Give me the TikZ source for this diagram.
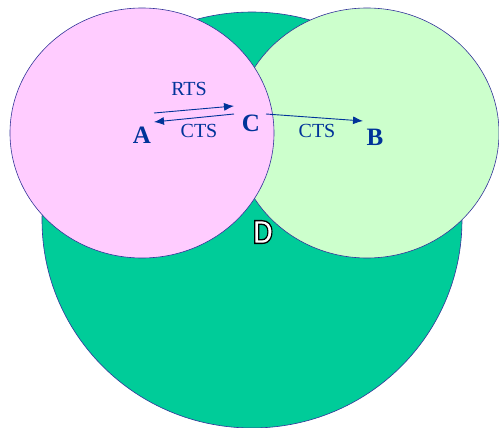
\documentclass[tikz,border=0pt]{standalone}
\usepackage{fontspec}
\usetikzlibrary{arrows.meta}
\setmainfont{Liberation Serif}
\newfontface\dface[FakeBold=4]{Liberation Sans Bold}
\definecolor{bigg}{HTML}{00CC99}
\definecolor{pinkf}{HTML}{FFCCFF}
\definecolor{lgreen}{HTML}{CCFFCC}
\definecolor{edgec}{HTML}{333399}
\definecolor{txtc}{HTML}{003399}
\begin{document}
\begin{tikzpicture}[x=1pt,y=-1pt,
  area/.style={draw=edgec,line width=0.6pt},
  bold lbl/.style={text=txtc,font=\fontsize{25}{25}\selectfont\bfseries,inner sep=0pt},
  msg/.style={text=txtc,font=\fontsize{20}{20}\selectfont,inner sep=0pt},
  arr/.style={draw=txtc,line width=0.9pt,-{Latex[length=10pt,width=8pt]}}]
\useasboundingbox (0,0) rectangle (499,428);
\begin{scope}
\clip (0,0) rectangle (499,428);
\path[area,fill=bigg] (252,220) ellipse [x radius=210,y radius=208];
\path[area,fill=lgreen] (367,133) ellipse [x radius=132,y radius=125];
\path[area,fill=pinkf] (142,133) ellipse [x radius=132,y radius=125];
\end{scope}
\node[bold lbl] (A) at (142,135) {A};
\node[bold lbl] (C) at (251,123) {C};
\node[bold lbl] (B) at (375,137) {B};
\node[msg] (rts) at (189,89) {RTS};
\node[msg] (cts1) at (199,131) {CTS};
\node[msg] (cts2) at (317,131) {CTS};
\coordinate (r0) at (154,113);
\coordinate (r1) at (234,106);
\coordinate (c0) at (234,114);
\coordinate (c1) at (154,122);
\coordinate (d0) at (266,114);
\coordinate (d1) at (363,121);
\draw[arr] (r0) -- (r1);
\draw[arr] (c0) -- (c1);
\draw[arr] (d0) -- (d1);
\node[inner sep=0pt,xscale=0.85] (D) at (263,232)
  {\fontsize{33}{33}\dface\textcolor{white}{\special{pdf:code 0 0 0 RG}D}};
\end{tikzpicture}
\end{document}
